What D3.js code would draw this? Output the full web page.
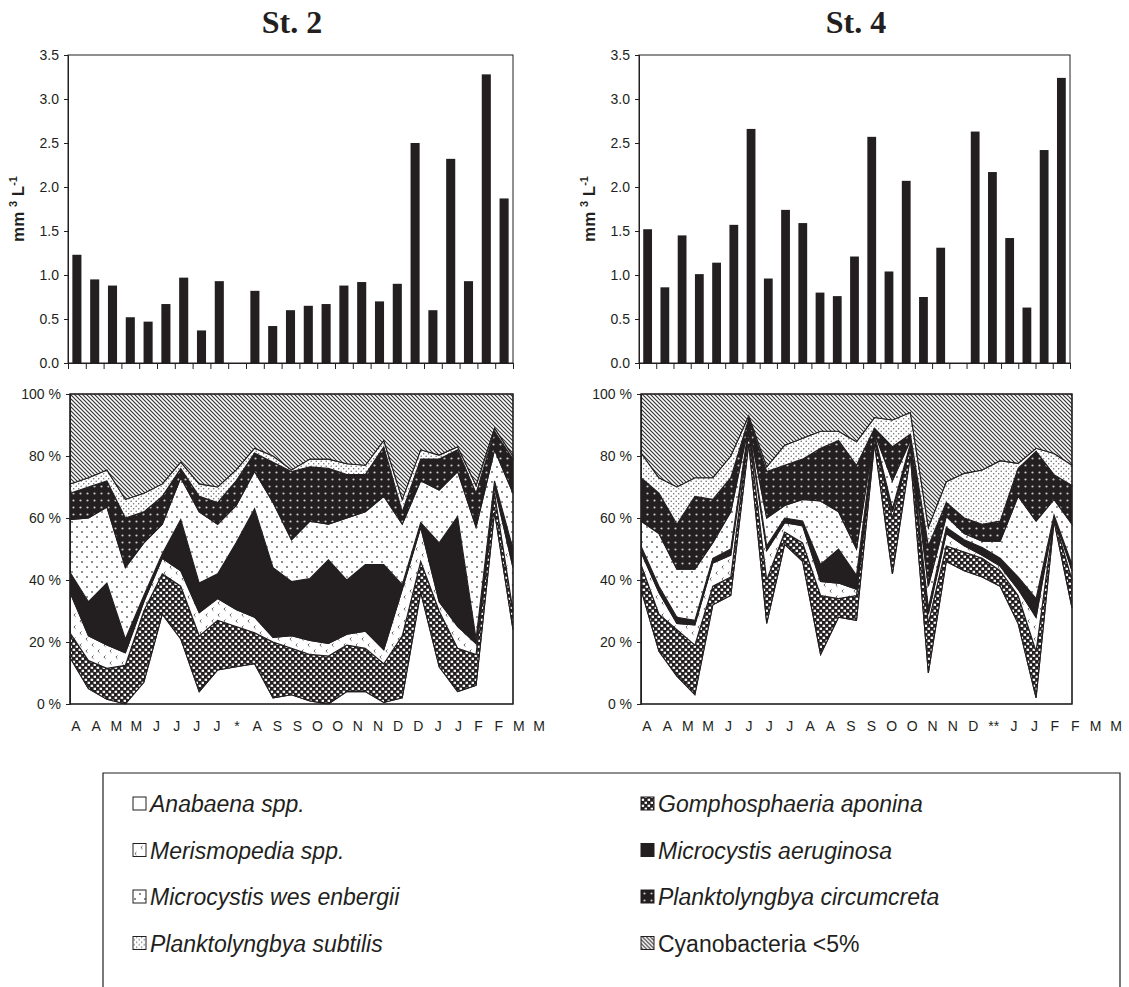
<!DOCTYPE html>
<html>
<head>
<meta charset="utf-8">
<script src="https://d3js.org/d3.v7.min.js"></script>
<style>
  body { margin: 0; background: #fff; }
  svg text { fill: #231f20; }
</style>
</head>
<body>
<svg id="chart" width="1129" height="987"></svg>
<script>
// ---------- data ----------
const labels2 = ['A','A','M','M','J','J','J','J','*','A','S','S','O','O','N','N','D','D','J','J','F','F','M','M']
const labels4 = ['A','A','M','M','J','J','J','J','A','A','S','S','O','O','N','N','D','**','J','J','F','F','M','M']

// biovolume, mm3 L-1 (null = no sample)
const volume2 = [1.23, 0.95, 0.88, 0.52, 0.47, 0.67, 0.97, 0.37, 0.93, null, 0.82, 0.42, 0.60, 0.65, 0.67, 0.88, 0.92, 0.70, 0.90, 2.50, 0.60, 2.32, 0.93, 3.28, 1.87]
const volume4 = [1.52, 0.86, 1.45, 1.01, 1.14, 1.57, 2.66, 0.96, 1.74, 1.59, 0.80, 0.76, 1.21, 2.57, 1.04, 2.07, 0.75, 1.31, null, 2.63, 2.17, 1.42, 0.63, 2.42, 3.24]
const volumeTicks = [0, 0.5, 1, 1.5, 2, 2.5, 3, 3.5]
const pctTicks = [0, 20, 40, 60, 80, 100]

const species = ['Anabaena spp.', 'Gomphosphaeria aponina', 'Merismopedia spp.', 'Microcystis aeruginosa',
  'Microcystis wes enbergii', 'Planktolyngbya circumcreta', 'Planktolyngbya subtilis', 'Cyanobacteria <5%']

// St. 2, % of cyanobacteria biovolume
const anabaena2 = [15, 5, 1.5, 0, 7, 29, 21, 4, 11, 12, 13, 2, 3, 1, 0, 4, 4, 0.5, 2, 36, 12, 4, 6, 62, 24]
const gomphos2  = [8, 9, 10, 12.5, 23, 13, 17, 18, 16, 13, 10, 18, 15, 15, 15.5, 15, 14, 12.5, 20, 10, 18, 14, 10, 6, 6]
const merismo2  = [13, 8, 7.5, 4, 3, 5, 5, 7.5, 7, 5.5, 5, 1.5, 4, 4.5, 4, 3.5, 5.5, 4.5, 15, 11, 3, 7, 3.5, 2, 14]
const maerug2   = [6.5, 11, 20, 4.5, 2, 1.5, 16.5, 9.5, 8, 21.5, 35, 22.5, 17.5, 20, 27, 17.5, 21.5, 27.5, 1.5, 1.5, 19, 35.5, 1.5, 2, 6]
const mwesen2   = [17, 27, 24.5, 23, 17, 9.5, 13.5, 23, 16, 12, 12, 21, 13.5, 18.5, 11.5, 20, 17, 22, 19.5, 13.5, 17, 14.5, 36, 10, 18]
const pcircum2  = [8.5, 10, 8.5, 16, 10, 9, 3, 5, 7, 8, 6, 13, 22, 17.5, 18, 14, 12, 16, 4, 7, 10, 7, 11, 6, 11]
const psubtil2  = [3, 3, 3.5, 6, 6, 4, 2, 4, 5, 3.5, 1.5, 2, 0.5, 2.5, 3, 3.5, 3, 2, 4, 3, 1.3, 1, 2.5, 1, 1]
const others2   = [29, 27, 24.5, 34, 32, 29, 22, 29, 30, 24.5, 17.5, 20, 24.5, 21, 21, 22.5, 23, 15, 34, 18, 19.7, 17, 29.5, 11, 20]

// St. 4
const anabaena4 = [37, 17, 9, 3, 32, 35, 84, 26, 51.5, 46, 16, 28, 27, 84, 42, 80, 10, 46, 43, 41, 38, 26, 2, 59, 31]
const gomphos4  = [8, 12, 15, 16, 6, 6, 4, 14, 4, 6, 19, 6, 8, 2, 18, 3, 16, 5, 6, 6, 5, 9, 15, 1, 9]
const merismo4  = [4, 7, 2, 6.5, 7.5, 7, 1, 9.5, 3, 5.5, 4.5, 5, 2, 0.5, 2, 0.5, 3, 4, 2, 1, 1.5, 2, 11, 0.5, 3]
const maerug4   = [2, 2, 2, 1.5, 1.5, 2, 0.5, 1.5, 1.5, 1.5, 5.5, 11, 4.5, 0.5, 1, 0.5, 2, 2, 2, 2.5, 2.5, 4, 6, 0.5, 2]
const mwesen4   = [8, 17, 15.5, 16.5, 5, 12, 0.5, 9, 4, 7, 20.5, 12, 8.5, 0.5, 9, 1, 7, 3.5, 2, 2, 5.5, 26, 25, 5, 13]
const pcircum4  = [14, 13, 14.5, 23.5, 14, 11, 2, 15, 13, 13, 17, 23, 27, 1.5, 11, 2, 13, 4.5, 5, 5.5, 6.5, 9, 22.5, 8, 12.5]
const psubtil4  = [8, 5, 12, 6, 7, 7, 1, 1.5, 6.5, 6.7, 5.5, 3, 7.6, 3.4, 8.6, 7, 6, 6.7, 14.4, 17.5, 19.5, 1.6, 1, 6.8, 6.5]
const others4   = [19, 27, 30, 27, 27, 20, 7, 23.5, 16.5, 14.3, 12, 12, 15.4, 7.6, 8.4, 6, 43, 28.3, 25.6, 24.5, 21.5, 22.4, 17.5, 19.2, 23]

const ink = '#231f20'
const sans = '"Liberation Sans", Arial, sans-serif'

let svg = d3.select('#chart')
let defs = svg.append('defs')

// ---------- fill patterns ----------
function pattern(id, w, h, bg) {
  let p = defs.append('pattern').attr('id', id)
    .attr('width', w).attr('height', h)
    .attr('patternUnits', 'userSpaceOnUse')
  p.append('rect').attr('width', w).attr('height', h).attr('fill', bg)
  return p
}
let pg = pattern('gomph', 6, 6, ink)
pg.append('rect').attr('x', 0.6).attr('y', 0.7).attr('width', 2.5).attr('height', 2.2).attr('fill', '#fff')
pg.append('rect').attr('x', 3.6).attr('y', 3.7).attr('width', 2.5).attr('height', 2.2).attr('fill', '#fff')

let pm = pattern('meris', 12, 12, '#fff')
pm.append('path').attr('d', 'M3.5,1.5 l-1.6,1.6 l1.6,1.6 M9.5,7.5 l-1.6,1.6 l1.6,1.6')
  .attr('fill', 'none').attr('stroke', '#555').attr('stroke-width', 0.9)

let pw = pattern('mwes', 10, 10, '#fff')
pw.append('circle').attr('cx', 2).attr('cy', 2).attr('r', 0.9).attr('fill', '#555')
pw.append('circle').attr('cx', 7).attr('cy', 7).attr('r', 0.9).attr('fill', '#555')

let pc = pattern('pcirc', 7, 7, ink)
pc.append('circle').attr('cx', 3.5).attr('cy', 3.5).attr('r', 1.1).attr('fill', '#c8c8c8')

let ps = pattern('psub', 5, 5, '#fff')
ps.append('circle').attr('cx', 1.2).attr('cy', 1.2).attr('r', 0.75).attr('fill', '#666')
ps.append('circle').attr('cx', 3.7).attr('cy', 3.7).attr('r', 0.75).attr('fill', '#666')

let ph = pattern('hatch', 4, 4, '#fff')
ph.append('path').attr('d', 'M-1,-1 L5,5 M-1,3 L1,5 M3,-1 L5,1')
  .attr('stroke', '#333').attr('stroke-width', 1.2)

const fills = ['#fff', 'url(#gomph)', 'url(#meris)', ink, 'url(#mwes)', 'url(#pcirc)', 'url(#psub)', 'url(#hatch)']

// ---------- bar chart ----------
function drawBars(values, box) {
  let g = svg.append('g')
  let x = d3.scaleBand().domain(d3.range(values.length)).range([box.x0, box.x1])
    .paddingInner(0.49).paddingOuter(0.245)
  let y = d3.scaleLinear().domain([0, 3.5]).range([box.y1, box.y0])

  g.selectAll('rect.bar')
    .data(values.map((v, i) => ({ v, i })).filter(d => d.v != null))
    .enter().append('rect')
    .attr('class', 'bar')
    .attr('x', d => x(d.i))
    .attr('width', x.bandwidth())
    .attr('y', d => y(d.v))
    .attr('height', d => y(0) - y(d.v))
    .attr('fill', ink)

  // box
  g.append('rect').attr('x', box.x0).attr('y', box.y0)
    .attr('width', box.x1 - box.x0).attr('height', box.y1 - box.y0)
    .attr('fill', 'none').attr('stroke', ink).attr('stroke-width', 1)

  let ya = g.append('g').attr('transform', `translate(${box.x0},0)`)
    .call(d3.axisLeft(y).tickValues(volumeTicks).tickFormat(d3.format('.1f')).tickSize(4).tickPadding(5))
  ya.selectAll('text').attr('font-size', 14).attr('font-family', sans).attr('fill', ink)
  ya.selectAll('line,path').attr('stroke', ink)

  let idx = d3.scaleLinear().domain([0, values.length]).range([box.x0, box.x1])
  let xa = g.append('g').attr('transform', `translate(0,${box.y1})`)
    .call(d3.axisBottom(idx).tickValues(d3.range(values.length + 1)).tickFormat('').tickSize(6).tickSizeOuter(0))
  xa.selectAll('line,path').attr('stroke', ink)

  // axis title mm3 L-1
  let t = g.append('text')
    .attr('transform', `translate(${box.x0 - 44},${(box.y0 + box.y1) / 2}) rotate(-90)`)
    .attr('text-anchor', 'middle')
    .attr('font-family', sans).attr('font-weight', 'bold').attr('font-size', 17)
  t.append('tspan').text('mm ')
  t.append('tspan').attr('font-size', 11).attr('dy', -7).text('3')
  t.append('tspan').attr('dy', 7).text(' L')
  t.append('tspan').attr('font-size', 11).attr('dy', -7).text('-1')
}

// ---------- stacked % area chart ----------
function drawAreas(seriesList, labels, box, labelRange) {
  let g = svg.append('g')
  let n = seriesList[0].length
  let rows = d3.range(n).map(i => {
    let r = {}
    species.forEach((s, k) => { r[s] = seriesList[k][i] })
    return r
  })
  let stack = d3.stack().keys(species)(rows)
  let x = d3.scalePoint().domain(d3.range(n)).range([box.x0, box.x1])
  let y = d3.scaleLinear().domain([0, 100]).range([box.y1, box.y0])
  let area = d3.area().x((d, i) => x(i)).y0(d => y(d[0])).y1(d => y(d[1]))

  g.selectAll('path.layer')
    .data(stack)
    .enter().append('path')
    .attr('class', 'layer')
    .attr('d', area)
    .attr('fill', (d, k) => fills[k])
    .attr('stroke', ink).attr('stroke-width', 1.1)
    .attr('stroke-linejoin', 'miter')

  g.append('rect').attr('x', box.x0).attr('y', box.y0)
    .attr('width', box.x1 - box.x0).attr('height', box.y1 - box.y0)
    .attr('fill', 'none').attr('stroke', ink).attr('stroke-width', 1.2)

  let ya = g.append('g').attr('transform', `translate(${box.x0},0)`)
    .call(d3.axisLeft(y).tickValues(pctTicks).tickFormat(d => d + ' %').tickSize(4).tickPadding(5))
  ya.selectAll('text').attr('font-size', 14).attr('font-family', sans).attr('fill', ink)
  ya.selectAll('line,path').attr('stroke', ink)

  let xl = d3.scalePoint().domain(d3.range(labels.length)).range(labelRange)
  g.selectAll('text.month')
    .data(labels)
    .enter().append('text')
    .attr('class', 'month')
    .attr('x', (d, i) => xl(i))
    .attr('y', box.y1 + 27)
    .attr('text-anchor', 'middle')
    .attr('font-family', sans).attr('font-size', 14)
    .text(d => d)
}

// ---------- titles ----------
function title(txt, cx) {
  svg.append('text').attr('x', cx).attr('y', 33)
    .attr('text-anchor', 'middle')
    .attr('font-family', '"Liberation Serif", "Times New Roman", serif')
    .attr('font-weight', 'bold').attr('font-size', 32)
    .text(txt)
}
title('St. 2', 292)
title('St. 4', 856)

drawBars(volume2, { x0: 68, x1: 513, y0: 55, y1: 363 })
drawBars(volume4, { x0: 639, x1: 1070, y0: 55, y1: 363 })

drawAreas([anabaena2, gomphos2, merismo2, maerug2, mwesen2, pcircum2, psubtil2, others2],
  labels2, { x0: 70, x1: 513, y0: 394, y1: 704 }, [76, 539])
drawAreas([anabaena4, gomphos4, merismo4, maerug4, mwesen4, pcircum4, psubtil4, others4],
  labels4, { x0: 641, x1: 1072, y0: 394, y1: 704 }, [647, 1116])

// ---------- legend ----------
let lg = svg.append('g')
lg.append('path')
  .attr('d', 'M103,1000 V773 H1120 V1000')
  .attr('fill', 'none').attr('stroke', ink).attr('stroke-width', 1.2)

let legendItems = species.map((s, k) => ({
  name: s, fill: fills[k],
  col: k % 2, row: Math.floor(k / 2)
}))
let li = lg.selectAll('g.item')
  .data(legendItems)
  .enter().append('g')
  .attr('class', 'item')
  .attr('transform', d => `translate(${d.col ? 641 : 133},${804 + d.row * 46.5})`)
li.append('rect')
  .attr('x', 0).attr('y', -7).attr('width', 13).attr('height', 13)
  .attr('fill', d => d.fill).attr('stroke', ink).attr('stroke-width', 1)
li.append('text')
  .attr('x', 17).attr('y', 8)
  .attr('font-family', sans).attr('font-size', 23)
  .attr('font-style', d => d.name.startsWith('Cyano') ? 'normal' : 'italic')
  .text(d => d.name)
</script>
</body>
</html>
